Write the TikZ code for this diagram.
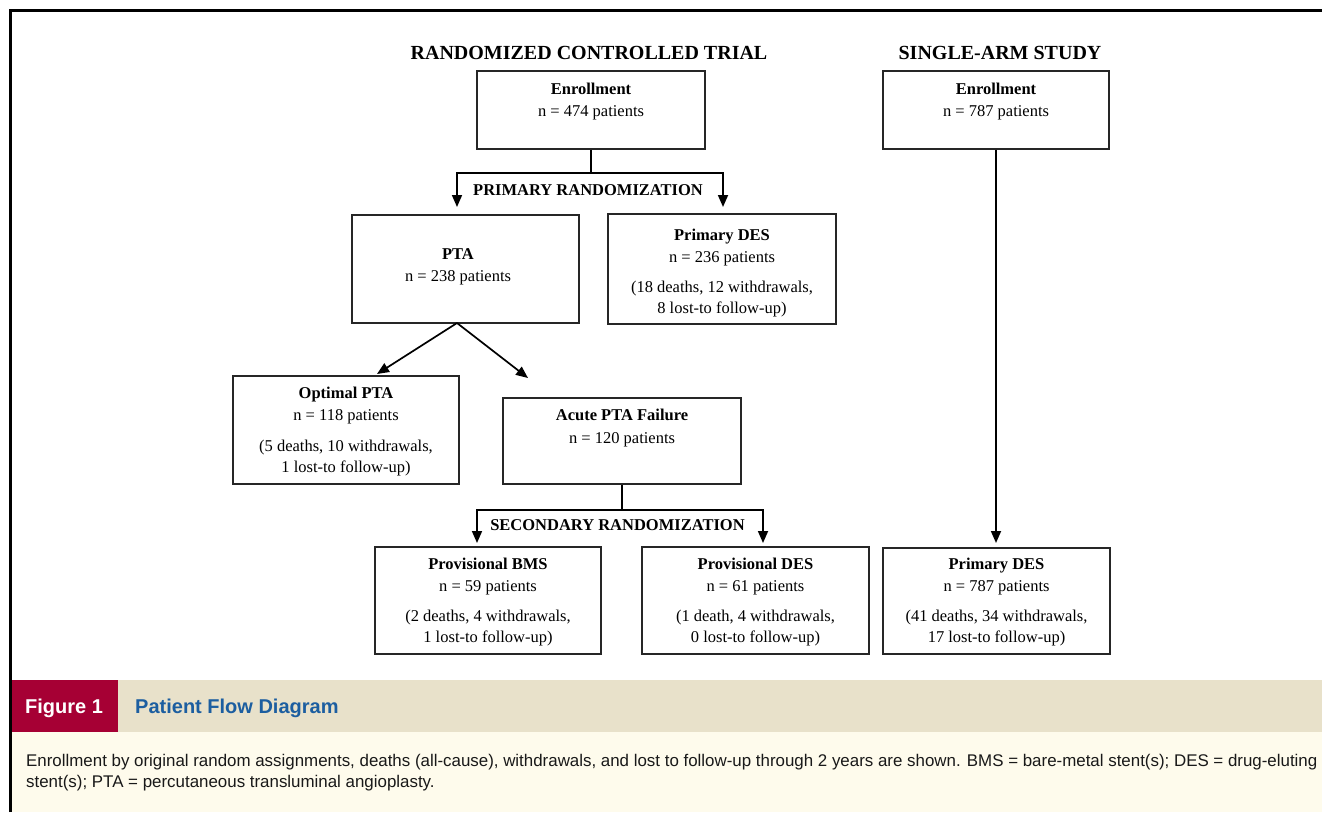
\documentclass[tikz,border=0pt]{standalone}
\usepackage{fontspec}
\setmainfont{Liberation Serif}
\newfontfamily\capfont{Liberation Sans}
\usetikzlibrary{arrows.meta}
\definecolor{figred}{RGB}{166,0,52}
\definecolor{figblue}{RGB}{28,94,160}
\definecolor{figbeige}{RGB}{232,225,202}
\definecolor{figcream}{RGB}{254,251,236}
\tikzset{
  box/.style={draw=black!85, line width=1.3pt, minimum width=#1, inner sep=0pt},
  boxtext/.style={anchor=north, inner sep=0pt, align=center, font=\fontsize{16.5}{21}\selectfont},
  flow/.style={draw=black, line width=1.7pt, -{Triangle[length=12pt,width=10pt]}},
  plain/.style={draw=black, line width=1.7pt},
  heading/.style={anchor=base, inner sep=0pt, font=\fontsize{20}{24}\selectfont\bfseries},
  randlabel/.style={anchor=base, inner sep=0pt, font=\fontsize{16.5}{20}\selectfont\bfseries},
  captext/.style={anchor=base west, inner sep=0pt, font=\capfont\fontsize{16.9}{20}\selectfont, text=black!90}
}
\begin{document}
\begin{tikzpicture}[x=1pt,y=-1pt]
\useasboundingbox (0,0) rectangle (1322,812);
% caption area
\fill[figcream] (11,732) rectangle (1322,812);
\fill[figbeige] (118,680) rectangle (1322,732);
\fill[figred] (11,680) rectangle (118,732);
\draw[line width=2.5pt] (10.5,812) -- (10.5,10.5) -- (1322,10.5);
\node[anchor=base, inner sep=0pt, text=white, font=\capfont\fontsize{20}{24}\selectfont\bfseries] (fig) at (64,713) {Figure 1};
\node[anchor=base west, inner sep=0pt, text=figblue, font=\capfont\fontsize{20}{24}\selectfont\bfseries] (figtitle) at (135,713) {Patient Flow Diagram};
\node[captext] (cap1) at (26,766) {Enrollment by original random assignments, deaths (all-cause), withdrawals, and lost to follow-up through 2 years are shown. BMS = bare-metal stent(s); DES = drug-eluting};
\node[captext] (cap2) at (26,787) {stent(s); PTA = percutaneous transluminal angioplasty.};

% headings
\node[heading] (hR) at (589,59) {RANDOMIZED CONTROLLED TRIAL};
\node[heading] (hS) at (1000,59) {SINGLE-ARM STUDY};

% boxes
\node[box=228pt, minimum height=78pt] (enrR) at (591,110) {};
\node[box=226pt, minimum height=78pt] (enrS) at (996,110) {};
\node[box=227pt, minimum height=108pt] (pta) at (465.5,269) {};
\node[box=228pt, minimum height=110pt] (pdes) at (722,269) {};
\node[box=226pt, minimum height=108pt] (opt) at (346,430) {};
\node[box=238pt, minimum height=86pt] (acute) at (622,441) {};
\node[box=226pt, minimum height=107pt] (bms) at (488,600.5) {};
\node[box=227pt, minimum height=107pt] (pdesP) at (755.5,600.5) {};
\node[box=227pt, minimum height=106pt] (sades) at (996.5,601) {};

% box texts
\node[boxtext] (tEnrR) at (591,83) {\textbf{Enrollment}\\[1pt] n = 474 patients};
\node[boxtext] (tEnrS) at (996,83) {\textbf{Enrollment}\\[1pt] n = 787 patients};
\node[boxtext] (tPta) at (458,248) {\textbf{PTA}\\[1pt] n = 238 patients};
\node[boxtext] (tPdes) at (722,229) {\textbf{Primary DES}\\[1pt] n = 236 patients\\[9pt] (18 deaths, 12 withdrawals,\\ 8 lost-to follow-up)};
\node[boxtext] (tOpt) at (346,387) {\textbf{Optimal PTA}\\[1pt] n = 118 patients\\[10pt] (5 deaths, 10 withdrawals,\\ 1 lost-to follow-up)};
\node[boxtext] (tAcute) at (622,409) {\textbf{Acute PTA Failure}\\[2pt] n = 120 patients};
\node[boxtext] (tBms) at (488,558) {\textbf{Provisional BMS}\\[1pt] n = 59 patients\\[9pt] (2 deaths, 4 withdrawals,\\ 1 lost-to follow-up)};
\node[boxtext] (tPdesP) at (755.5,558) {\textbf{Provisional DES}\\[1pt] n = 61 patients\\[9pt] (1 death, 4 withdrawals,\\ 0 lost-to follow-up)};
\node[boxtext] (tSades) at (996.5,558) {\textbf{Primary DES}\\[1pt] n = 787 patients\\[9pt] (41 deaths, 34 withdrawals,\\ 17 lost-to follow-up)};

% randomization labels
\node[randlabel] (prim) at (588,195) {PRIMARY RANDOMIZATION};
\node[randlabel] (sec) at (617.5,530) {SECONDARY RANDOMIZATION};

% connectors
\coordinate (ptaIn) at (457,207);
\coordinate (pdesIn) at (723,207);
\coordinate (ptaOut) at (457,323);
\coordinate (optIn) at (377,374);
\coordinate (acuteIn) at (528,378);
\coordinate (bmsIn) at (477,543);
\coordinate (pdesPIn) at (763,543);
\coordinate (sadesIn) at (996,543);

\draw[plain] (enrR.south) -- ++(0,23) coordinate (jR);
\draw[flow] (jR) -| (ptaIn);
\draw[flow] (jR) -| (pdesIn);
\draw[flow] (ptaOut) -- (optIn);
\draw[flow] (ptaOut) -- (acuteIn);
\draw[plain] (acute.south) -- ++(0,25) coordinate (jS);
\draw[flow] (jS) -| (bmsIn);
\draw[flow] (jS) -| (pdesPIn);
\draw[flow] (enrS.south) -- (sadesIn);
\end{tikzpicture}
\end{document}
